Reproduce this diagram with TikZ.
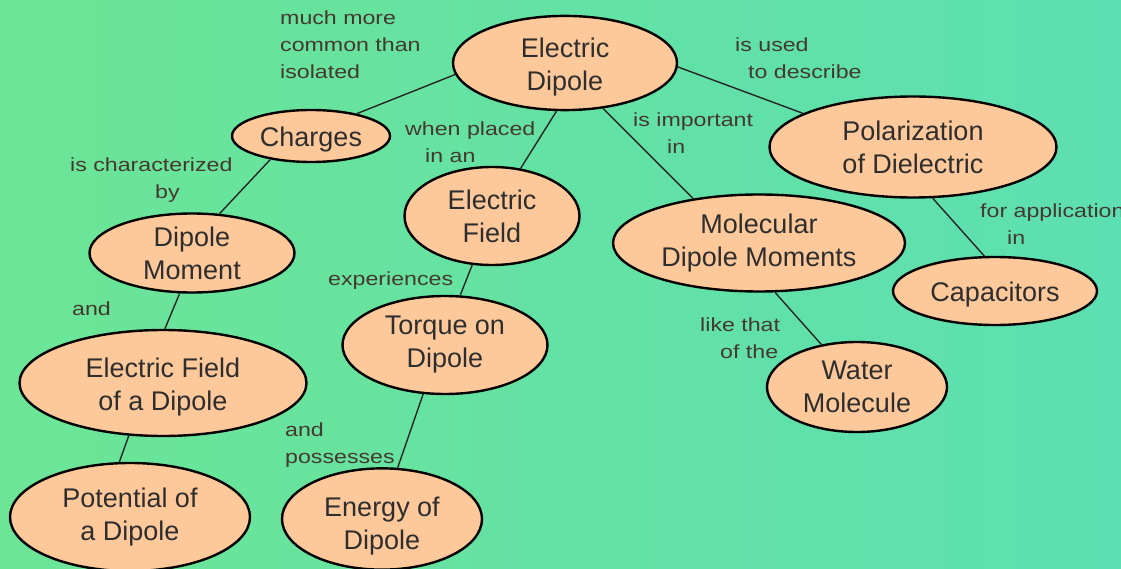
\documentclass[tikz,border=0pt]{standalone}
\usepackage{fontspec}
\setmainfont{Liberation Sans}
\newfontfamily\lblfont[FakeStretch=1.22]{Liberation Sans}
\usetikzlibrary{shapes.geometric}
\definecolor{bgA}{HTML}{6CE596}
\definecolor{bgB}{HTML}{5CDFB2}
\definecolor{nodefill}{HTML}{FDC99A}
\definecolor{nodetext}{HTML}{2E2E2E}
\definecolor{lbltext}{HTML}{45382F}
\begin{document}
\begin{tikzpicture}[x=1pt,y=-1pt,
  concept/.style={ellipse, draw=black, line width=2.4pt, fill=nodefill, text=nodetext,
    inner sep=0pt, align=center, font=\fontsize{27}{33}\selectfont,
    execute at begin node={\rule{0pt}{26pt}}},
  tdown/.style={execute at begin node={\rule{0pt}{#1}}},
  lbl/.style={anchor=north west, inner sep=0pt, align=left, text=lbltext,
    font=\fontsize{19}{27}\lblfont, execute at begin node={\rule{0pt}{14pt}}},
  link/.style={line width=1.4pt, draw=black!85}]
\useasboundingbox (0,0) rectangle (1121,569);
\clip (0,0) rectangle (1121,569);
\shade[left color=bgA, right color=bgB] (0,0) rectangle (1121,569);

% concepts
\node[concept, tdown=61pt, minimum width=224pt, minimum height=87pt] (ed) at (565,63) {Electric\\Dipole};
\node[concept, minimum width=158pt, minimum height=52pt] (ch) at (311,136) {Charges};
\node[concept, minimum width=287pt, minimum height=101pt] (pol) at (913,147) {Polarization\\of Dielectric};
\node[concept, minimum width=175pt, minimum height=98pt] (ef) at (492,216) {Electric\\Field};
\node[concept, minimum width=205pt, minimum height=79pt] (dm) at (192,253) {Dipole\\Moment};
\node[concept, minimum width=292pt, minimum height=97pt] (mdm) at (759,243) {Molecular\\Dipole Moments};
\node[concept, minimum width=204pt, minimum height=68pt] (cap) at (995,291) {Capacitors};
\node[concept, minimum width=205pt, minimum height=98pt] (tq) at (445,345) {Torque on\\Dipole};
\node[concept, tdown=61pt, minimum width=287pt, minimum height=106pt] (efd) at (163,383) {Electric Field\\of a Dipole};
\node[concept, minimum width=180pt, minimum height=90pt] (wm) at (857,387) {Water\\Molecule};
\node[concept, minimum width=240pt, minimum height=108pt] (pot) at (130,517) {Potential of\\a Dipole};
\node[concept, tdown=66pt, minimum width=200pt, minimum height=98pt] (en) at (382,519) {Energy of\\Dipole};

% links
\draw[link] (ed.186) -- (ch.26);
\draw[link] (ed.260) -- (ef.59);
\draw[link] (ed.310) -- (mdm.146);
\draw[link] (ed.358) -- (pol.163);
\draw[link] (ch.210) -- (dm.55);
\draw[link] (dm.253) -- (efd.88);
\draw[link] (efd.237) -- (pot.101);
\draw[link] (ef.248) -- (tq.73);
\draw[link] (tq.246) -- (en.73);
\draw[link] (mdm.288) -- (wm.130);
\draw[link] (pol.291) -- (cap.107);

% labels
\node[lbl] (l1) at (280,11) {much more\\common than\\isolated};
\node[lbl] (l2) at (405,122) {when placed\\\hspace*{20pt}in an};
\node[lbl] (l3) at (633,113) {is important\\\hspace*{34pt}in};
\node[lbl] (l4) at (735,38) {is used\\\hspace*{13pt}to describe};
\node[lbl] (l5) at (70,158) {is characterized\\\hspace*{85pt}by};
\node[lbl] (l6) at (72,301) {and};
\node[lbl] (l7) at (328,271) {experiences};
\node[lbl] (l8) at (285,423) {and\\possesses};
\node[lbl] (l9) at (700,318) {like that\\\hspace*{20pt}of the};
\node[lbl] (l10) at (980,204) {for application\\\hspace*{27pt}in};
\end{tikzpicture}
\end{document}
